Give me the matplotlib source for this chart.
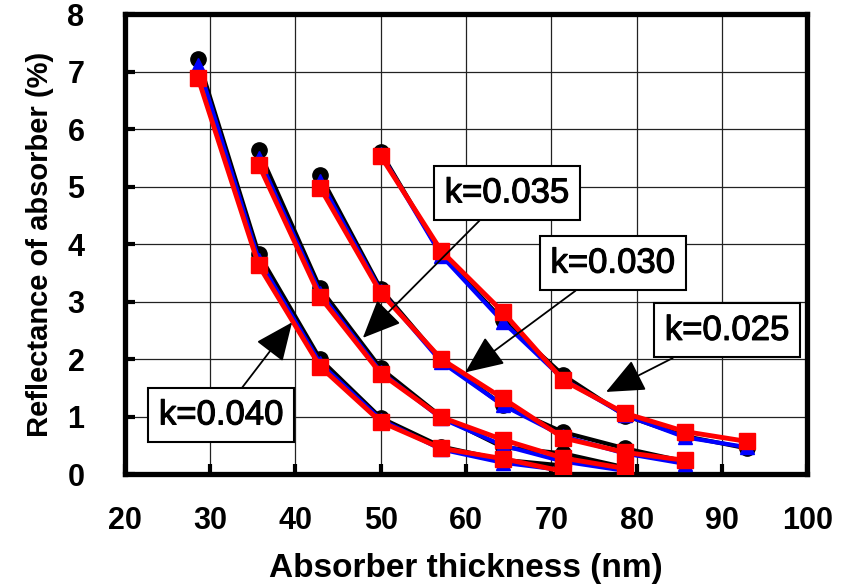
import matplotlib
matplotlib.use("Agg")
import matplotlib.pyplot as plt
import matplotlib.patheffects as pe
import numpy as np

plt.rcParams['font.family'] = ['Liberation Sans', 'DejaVu Sans']

# thickness grid (nm), 7 points per extinction coefficient
thickness = [28.6, 35.7, 42.9, 50.0, 57.1, 64.3, 71.4, 78.6, 85.7, 92.9]
k_labels = ['k=0.040', 'k=0.035', 'k=0.030', 'k=0.025']
k_start = [0, 1, 2, 3]  # index into thickness where each curve begins

# reflectance (%) for the three model variants of each k
refl_black = [
    [7.22, 3.83, 2.00, 0.98, 0.48, 0.25, 0.15],
    [5.63, 3.23, 1.84, 1.00, 0.47, 0.36, 0.12],
    [5.20, 3.22, 1.98, 1.20, 0.73, 0.45, 0.22],
    [5.60, 3.82, 2.68, 1.72, 1.02, 0.66, 0.45],
]
refl_blue = [
    [7.12, 3.73, 1.93, 0.95, 0.43, 0.20, 0.07],
    [5.50, 3.15, 1.78, 0.97, 0.50, 0.22, 0.06],
    [5.10, 3.18, 1.95, 1.20, 0.66, 0.36, 0.18],
    [5.57, 3.80, 2.65, 1.65, 1.03, 0.64, 0.47],
]
refl_red = [
    [6.88, 3.63, 1.87, 0.91, 0.45, 0.27, 0.05],
    [5.38, 3.08, 1.75, 0.99, 0.60, 0.28, 0.10],
    [4.98, 3.15, 2.00, 1.32, 0.63, 0.38, 0.24],
    [5.53, 3.88, 2.82, 1.63, 1.06, 0.74, 0.57],
]

# label text position and arrow tip, in data coords
label_pos = [(31.3, 1.03), (64.8, 4.89), (77.2, 3.67), (90.6, 2.50)]
arrow_tip = [(39.6, 2.64), (47.9, 2.37), (59.9, 1.77), (76.4, 1.43)]

fig = plt.figure(figsize=(8.49, 5.84), dpi=100)
ax = fig.add_axes((0.147, 0.188, 0.804, 0.788))

for i in range(4):
    x = thickness[k_start[i]:k_start[i] + 7]
    ax.plot(x, refl_black[i], '-o', color='black', lw=3, ms=11, zorder=3)
for i in range(4):
    x = thickness[k_start[i]:k_start[i] + 7]
    ax.plot(x, refl_blue[i], '-^', color='#0000ff', lw=3, ms=10, zorder=4)
for i in range(4):
    x = thickness[k_start[i]:k_start[i] + 7]
    ax.plot(x, refl_red[i], '-s', color='#ff0000', lw=3.5, ms=12, zorder=5)

for lab, pos, tip in zip(k_labels, label_pos, arrow_tip):
    t = ax.annotate(lab, xy=tip, xytext=pos, ha='center', va='center',
                    fontsize=25, zorder=6,
                    bbox=dict(boxstyle='square,pad=0.3', fc='white', ec='black', lw=1.5),
                    arrowprops=dict(arrowstyle='-|>,head_length=0.8,head_width=0.35',
                                    mutation_scale=30, color='black', lw=1.3,
                                    shrinkA=0, shrinkB=0))
    # slightly heavier strokes than the regular face
    t.set_path_effects([pe.withStroke(linewidth=0.8, foreground='black')])

ax.set_xlim(20, 100)
ax.set_ylim(0, 8)
ax.set_xticks(np.arange(20, 101, 10))
ax.set_yticks(np.arange(0, 9, 1))
ax.grid(True, color='#222222', lw=0.9)
ax.set_axisbelow(True)

for s in ax.spines.values():
    s.set_linewidth(3.8)
ax.tick_params(direction='in', length=7, width=3, labelsize=22)
ax.tick_params(axis='x', pad=23)
ax.tick_params(axis='y', pad=29)
for t in ax.get_xticklabels() + ax.get_yticklabels():
    t.set_fontweight('bold')

ax.set_xlabel('Absorber thickness (nm)', fontsize=24, fontweight='bold', labelpad=12)
ax.set_ylabel('Reflectance of absorber (%)', fontsize=21, fontweight='bold', labelpad=10)

fig.savefig('out.png', dpi=100)
